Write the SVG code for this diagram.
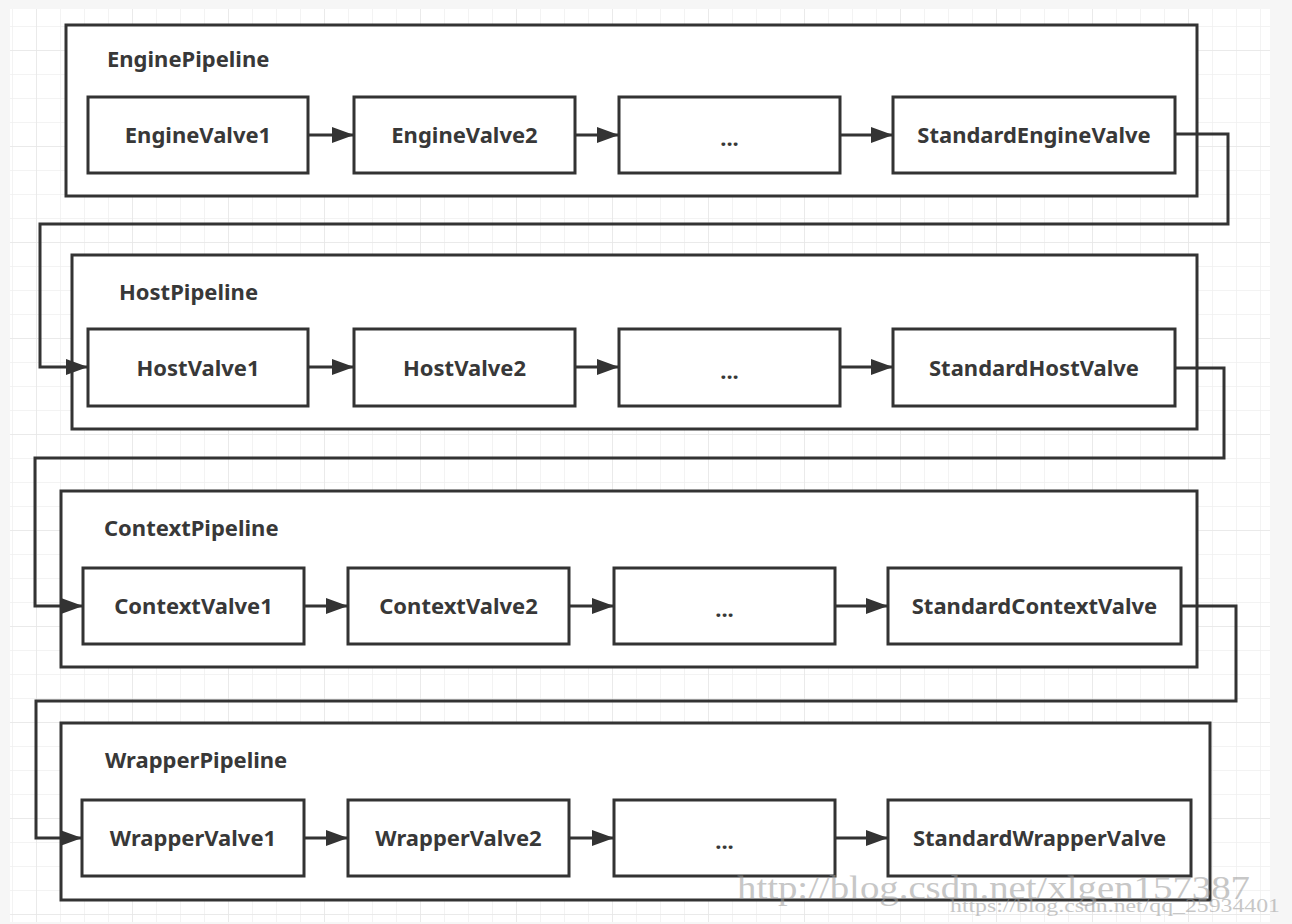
<svg xmlns="http://www.w3.org/2000/svg" width="1292" height="924" viewBox="0 0 1292 924">
<defs>
<pattern id="minor" patternUnits="userSpaceOnUse" x="12" y="2" width="24" height="24">
<path d="M0,0 V24 M0,0 H24" fill="none" stroke="#f0f0f0" stroke-width="1.5"/>
</pattern>
<pattern id="major" patternUnits="userSpaceOnUse" x="36" y="50" width="96" height="96">
<path d="M0,0 V96 M0,0 H96" fill="none" stroke="#e7e7e7" stroke-width="1.5"/>
</pattern>
<marker id="arr" markerUnits="userSpaceOnUse" viewBox="0 0 22 16" refX="21" refY="8" markerWidth="22" markerHeight="16" orient="auto">
<path d="M0,0 L22,8 L0,16 z" fill="#333"/>
</marker>
</defs>
<style>
.pipe{fill:#fff;stroke:#333;stroke-width:3}
.valve{fill:#fff;stroke:#333;stroke-width:3}
.t{font-family:"Noto Sans","Open Sans","Liberation Sans",sans-serif;font-weight:bold;font-size:22px;fill:#383838}
.vt{text-anchor:middle;dominant-baseline:central}
.c{fill:none;stroke:#333;stroke-width:3;marker-end:url(#arr)}
.wm{font-family:"Liberation Serif","DejaVu Serif",serif;fill:#9a9a9a;opacity:0.55}
</style>
<rect width="1292" height="924" fill="#f6f6f6"/>
<rect x="10" y="9" width="1260" height="913" fill="#fff"/>
<rect x="10" y="9" width="1260" height="913" fill="url(#minor)"/>
<rect x="10" y="9" width="1260" height="913" fill="url(#major)"/>

<g id="engine-pipeline">
<rect class="pipe" x="66" y="25" width="1131" height="171"/>
<text class="t" x="107" y="67">EnginePipeline</text>
</g>
<g id="host-pipeline">
<rect class="pipe" x="72" y="255" width="1125" height="174"/>
<text class="t" x="119" y="300">HostPipeline</text>
</g>
<g id="context-pipeline">
<rect class="pipe" x="61" y="491" width="1136" height="176"/>
<text class="t" x="104" y="536">ContextPipeline</text>
</g>
<g id="wrapper-pipeline">
<rect class="pipe" x="61" y="723" width="1149" height="177"/>
<text class="t" x="105" y="768">WrapperPipeline</text>
</g>

<g id="EngineValve1"><rect class="valve" x="88" y="97" width="220" height="76"/><text class="t vt" x="198" y="134">EngineValve1</text></g>
<g id="EngineValve2"><rect class="valve" x="354" y="97" width="221" height="76"/><text class="t vt" x="464.5" y="134">EngineValve2</text></g>
<g id="EngineDots"><rect class="valve" x="619" y="97" width="221" height="76"/><text class="t vt" x="729.5" y="137">...</text></g>
<g id="StandardEngineValve"><rect class="valve" x="893" y="97" width="282" height="76"/><text class="t vt" x="1034" y="134">StandardEngineValve</text></g>

<g id="HostValve1"><rect class="valve" x="88" y="329" width="220" height="77"/><text class="t vt" x="198" y="367">HostValve1</text></g>
<g id="HostValve2"><rect class="valve" x="354" y="329" width="221" height="77"/><text class="t vt" x="464.5" y="367">HostValve2</text></g>
<g id="HostDots"><rect class="valve" x="619" y="329" width="221" height="77"/><text class="t vt" x="729.5" y="370">...</text></g>
<g id="StandardHostValve"><rect class="valve" x="893" y="329" width="282" height="77"/><text class="t vt" x="1034" y="367">StandardHostValve</text></g>

<g id="ContextValve1"><rect class="valve" x="83" y="568" width="221" height="76"/><text class="t vt" x="193.5" y="605">ContextValve1</text></g>
<g id="ContextValve2"><rect class="valve" x="348" y="568" width="221" height="76"/><text class="t vt" x="458.5" y="605">ContextValve2</text></g>
<g id="ContextDots"><rect class="valve" x="614" y="568" width="221" height="76"/><text class="t vt" x="724.5" y="608">...</text></g>
<g id="StandardContextValve"><rect class="valve" x="888" y="568" width="293" height="76"/><text class="t vt" x="1034.5" y="605">StandardContextValve</text></g>

<g id="WrapperValve1"><rect class="valve" x="82" y="800" width="222" height="76"/><text class="t vt" x="193" y="837">WrapperValve1</text></g>
<g id="WrapperValve2"><rect class="valve" x="348" y="800" width="221" height="76"/><text class="t vt" x="458.5" y="837">WrapperValve2</text></g>
<g id="WrapperDots"><rect class="valve" x="614" y="800" width="221" height="76"/><text class="t vt" x="724.5" y="840">...</text></g>
<g id="StandardWrapperValve"><rect class="valve" x="888" y="800" width="303" height="76"/><text class="t vt" x="1039.5" y="837">StandardWrapperValve</text></g>

<g id="connectors">
<path class="c" d="M308,135 H353"/>
<path class="c" d="M575,135 H618"/>
<path class="c" d="M840,135 H892"/>
<path class="c" d="M308,367 H353"/>
<path class="c" d="M575,367 H618"/>
<path class="c" d="M840,367 H892"/>
<path class="c" d="M304,606 H347"/>
<path class="c" d="M569,606 H613"/>
<path class="c" d="M835,606 H887"/>
<path class="c" d="M304,838 H347"/>
<path class="c" d="M569,838 H613"/>
<path class="c" d="M835,838 H887"/>
<path class="c" d="M1175,134 H1228 V224 H40 V367 H87"/>
<path class="c" d="M1175,368 H1224 V458 H35 V606 H82"/>
<path class="c" d="M1181,606 H1236 V701 H36 V838 H81"/>
</g>

<text class="wm" x="737" y="899" font-size="33" textLength="513" lengthAdjust="spacingAndGlyphs">http://blog.csdn.net/xlgen157387</text>
<text class="wm" x="950" y="912" font-size="18" textLength="330" lengthAdjust="spacingAndGlyphs">https://blog.csdn.net/qq_25934401</text>
</svg>
